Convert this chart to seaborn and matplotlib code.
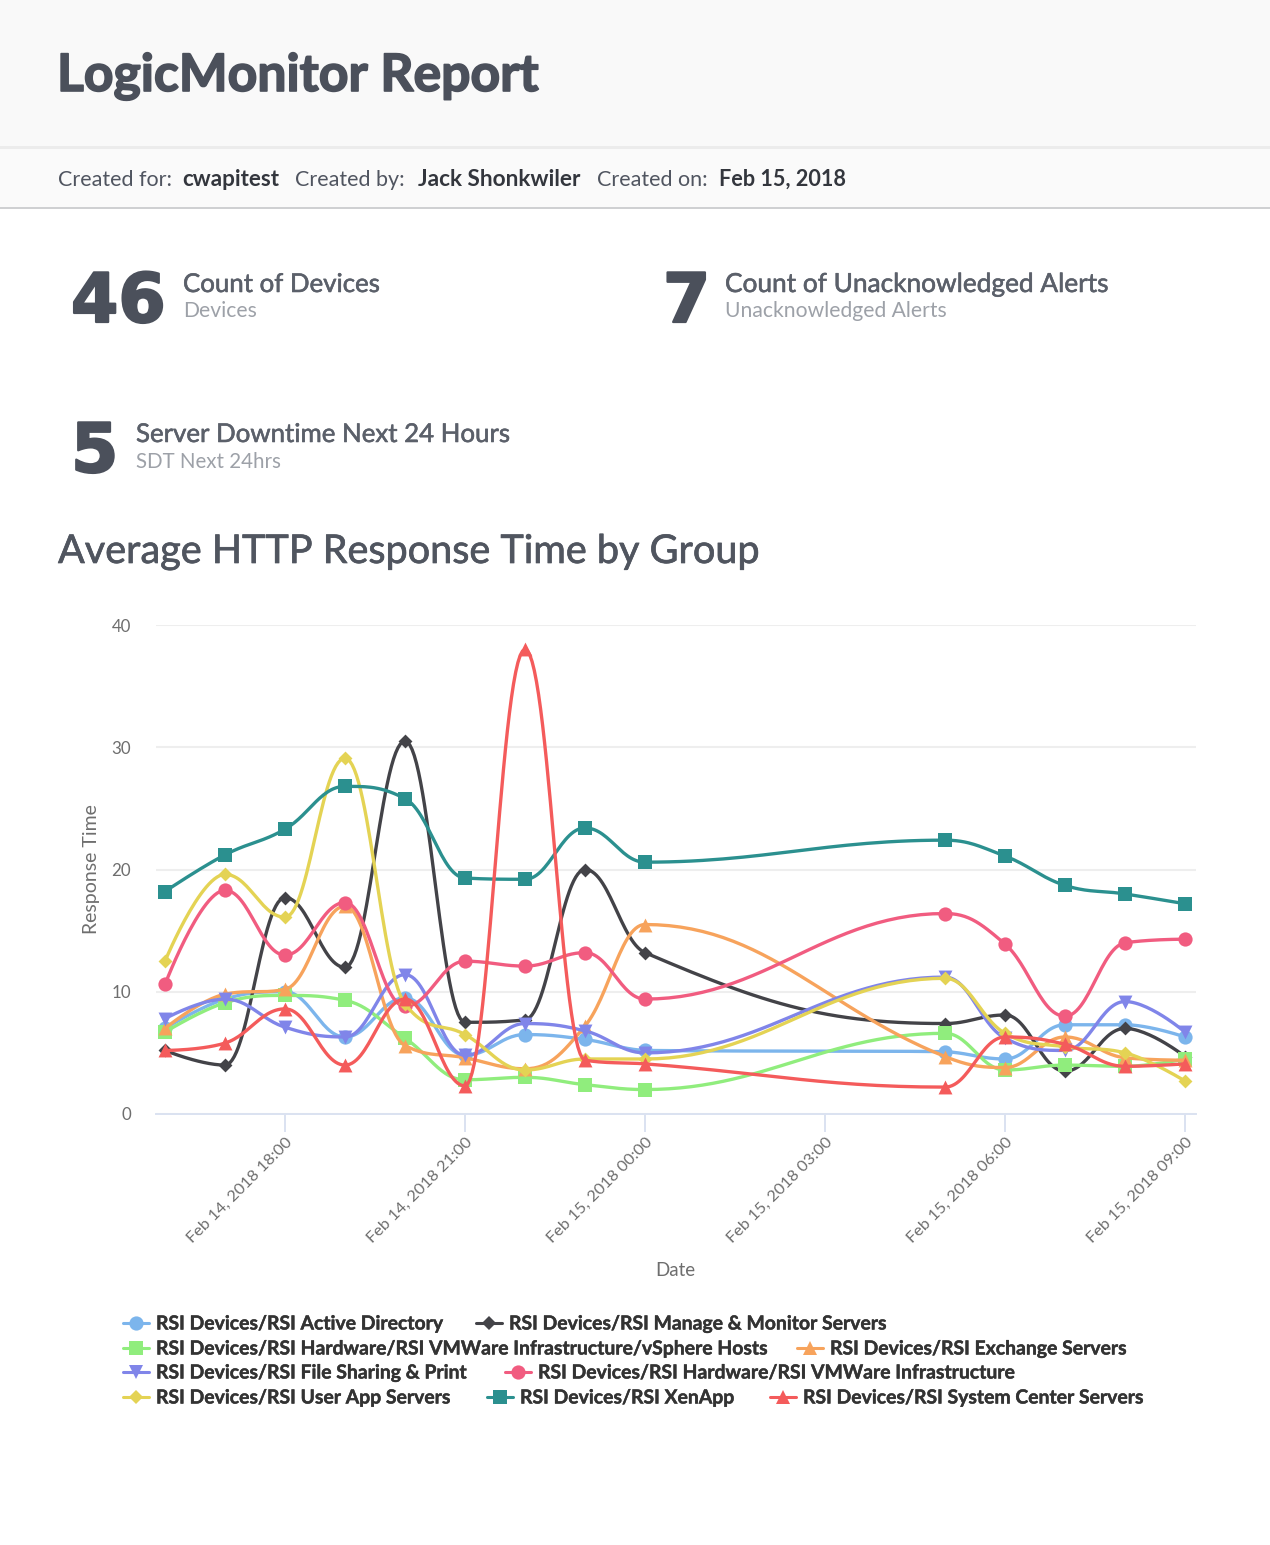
import numpy as np
import pandas as pd
import matplotlib
matplotlib.use('Agg')
import matplotlib.pyplot as plt
import matplotlib.patheffects as pe
from matplotlib.lines import Line2D
from matplotlib.patches import Rectangle
from matplotlib.transforms import ScaledTranslation
import seaborn as sns

# hours since Feb 14 2018 00:00
hours = [16, 17, 18, 19, 20, 21, 22, 23, 24, 29, 30, 31, 32, 33]

active_directory = [7.0, 9.4, 10.0, 6.3, 9.5, 4.8, 6.5, 6.1, 5.2, 5.1, 4.5, 7.3, 7.3, 6.3]
manage_monitor = [5.2, 4.0, 17.7, 12.0, 30.5, 7.5, 7.7, 20.0, 13.2, 7.4, 8.1, 3.5, 7.0, 4.7]
vsphere_hosts = [6.7, 9.1, 9.7, 9.3, 6.2, 2.8, 3.0, 2.4, 2.0, 6.6, 3.6, 4.0, 3.9, 4.5]
exchange = [7.0, 9.8, 10.2, 17.0, 5.6, 4.6, 3.7, 7.2, 15.5, 4.7, 3.8, 6.3, 4.6, 4.4]
file_sharing = [7.8, 9.4, 7.1, 6.3, 11.4, 4.8, 7.4, 6.8, 5.0, 11.2, 6.2, 5.2, 9.2, 6.7]
vmware_infra = [10.6, 18.3, 13.0, 17.3, 8.8, 12.5, 12.1, 13.2, 9.4, 16.4, 13.9, 8.0, 14.0, 14.3]
user_app = [12.5, 19.6, 16.1, 29.1, 9.0, 6.5, 3.6, 4.5, 4.5, 11.1, 6.6, 5.5, 5.0, 2.7]
xenapp = [18.2, 21.2, 23.3, 26.8, 25.8, 19.3, 19.2, 23.4, 20.6, 22.4, 21.1, 18.7, 18.0, 17.2]
system_center = [5.2, 5.8, 8.6, 4.0, 9.4, 2.3, 38.0, 4.4, 4.1, 2.2, 6.3, 5.7, 3.9, 4.1]

names = ['RSI Devices/RSI Active Directory', 'RSI Devices/RSI Manage & Monitor Servers',
         'RSI Devices/RSI Hardware/RSI VMWare Infrastructure/vSphere Hosts', 'RSI Devices/RSI Exchange Servers',
         'RSI Devices/RSI File Sharing & Print', 'RSI Devices/RSI Hardware/RSI VMWare Infrastructure',
         'RSI Devices/RSI User App Servers', 'RSI Devices/RSI XenApp', 'RSI Devices/RSI System Center Servers']
values = [active_directory, manage_monitor, vsphere_hosts, exchange, file_sharing,
          vmware_infra, user_app, xenapp, system_center]
colors = ['#7cb5ec', '#434348', '#90ed7d', '#f7a35c', '#8085e9', '#f15c80', '#e4d354', '#2b908f', '#f45b5b']
markers = ['o', 'D', 's', '^', 'v', 'o', 'D', 's', '^']
sizes = [105, 50, 105, 100, 100, 105, 50, 105, 100]

tick_hours = [18, 21, 24, 27, 30, 33]
tick_labels = ['Feb 14, 2018 18:00', 'Feb 14, 2018 21:00', 'Feb 15, 2018 00:00',
               'Feb 15, 2018 03:00', 'Feb 15, 2018 06:00', 'Feb 15, 2018 09:00']

W, H = 1270, 1545
FONT = 'Lato'
DARK = '#4b505b'
GREY = '#9da1a8'

sns.set_theme(style='white')
plt.rcParams['font.family'] = [FONT, 'DejaVu Sans']


def spline(xv, yv, smoothing=1.5, steps=30):
    # same bezier control points a highcharts spline uses
    xv = np.asarray(xv, float)
    yv = np.asarray(yv, float)
    n = len(xv)
    left = np.column_stack([xv, yv])
    right = left.copy()
    denom = smoothing + 1
    for i in range(1, n - 1):
        lx = (smoothing * xv[i] + xv[i - 1]) / denom
        ly = (smoothing * yv[i] + yv[i - 1]) / denom
        rx = (smoothing * xv[i] + xv[i + 1]) / denom
        ry = (smoothing * yv[i] + yv[i + 1]) / denom
        corr = (ry - ly) * (rx - xv[i]) / (rx - lx) + yv[i] - ry
        ly += corr
        ry += corr
        if ly > yv[i - 1] and ly > yv[i]:
            ly = max(yv[i - 1], yv[i])
            ry = 2 * yv[i] - ly
        elif ly < yv[i - 1] and ly < yv[i]:
            ly = min(yv[i - 1], yv[i])
            ry = 2 * yv[i] - ly
        if ry > yv[i + 1] and ry > yv[i]:
            ry = max(yv[i + 1], yv[i])
            ly = 2 * yv[i] - ry
        elif ry < yv[i + 1] and ry < yv[i]:
            ry = min(yv[i + 1], yv[i])
            ly = 2 * yv[i] - ry
        left[i] = lx, ly
        right[i] = rx, ry
    t = np.linspace(0, 1, steps)[:, None]
    parts = []
    for i in range(n - 1):
        p0 = np.array([xv[i], yv[i]])
        p3 = np.array([xv[i + 1], yv[i + 1]])
        parts.append((1 - t) ** 3 * p0 + 3 * (1 - t) ** 2 * t * right[i]
                     + 3 * (1 - t) * t ** 2 * left[i + 1] + t ** 3 * p3)
    curve = np.vstack(parts)
    return curve[:, 0], curve[:, 1]


def px_text(x, y, s, size, color=DARK, weight='normal', stroke=0, **kw):
    txt = fig.text(x / W, 1 - y / H, s, fontsize=size, color=color, fontweight=weight, va='baseline', **kw)
    if stroke:
        # the original font is heavier than anything installed
        txt.set_path_effects([pe.withStroke(linewidth=stroke, foreground=color)])
    return txt


def band(y0, y1, color):
    fig.add_artist(Rectangle((0, 1 - y1 / H), 1, (y1 - y0) / H, transform=fig.transFigure,
                             facecolor=color, edgecolor='none', zorder=-5))


fig = plt.figure(figsize=(W / 100, H / 100), dpi=100, facecolor='white')

# report header
band(0, 146, '#f9f9f9')
band(146, 149, '#ececec')
band(149, 207, '#fafafa')
band(207, 209, '#cfd0d2')

px_text(57, 91, 'LogicMonitor Report', 37.2, weight='bold', stroke=1.2)

px_text(58, 186, 'Created for:', 15.5, color='#505560')
px_text(182, 186, 'cwapitest', 16.1, color='#33363d', weight='bold')
px_text(295, 186, 'Created by:', 15.5, color='#505560')
px_text(418, 186, 'Jack Shonkwiler', 16.3, color='#33363d', weight='bold')
px_text(597, 186, 'Created on:', 15.5, color='#505560')
px_text(719, 186, 'Feb 15, 2018', 15.6, color='#33363d', weight='bold')

# big number tiles
px_text(71, 322, '46', 49, family='DejaVu Sans', weight='bold', stroke=1.6)
px_text(183, 292, 'Count of Devices', 18.6, color='#5b606a', stroke=0.4)
px_text(183, 317, 'Devices', 15.2, color=GREY)
px_text(663, 322, '7', 49, family='DejaVu Sans', weight='bold', stroke=1.6)
px_text(725, 292, 'Count of Unacknowledged Alerts', 18.9, color='#5b606a', stroke=0.4)
px_text(725, 317, 'Unacknowledged Alerts', 15.2, color=GREY)
px_text(71, 472, '5', 49, family='DejaVu Sans', weight='bold', stroke=1.6)
px_text(136, 442, 'Server Downtime Next 24 Hours', 18.6, color='#5b606a', stroke=0.4)
px_text(136, 468, 'SDT Next 24hrs', 14.8, color=GREY)

px_text(58, 563, 'Average HTTP Response Time by Group', 28.5, color='#50555f', stroke=0.5)

# chart
ax = fig.add_axes([156 / W, 1 - 1114 / H, 1040 / W, 489 / H])
for i, (name, vals) in enumerate(zip(names, values)):
    cx, cy = spline(hours, vals)
    sns.lineplot(x=cx, y=cy, sort=False, estimator=None, errorbar=None, color=colors[i],
                 linewidth=2.4, ax=ax, zorder=3 + i, clip_on=False)
    pts = pd.DataFrame({'hour': hours, 'value': vals})
    sns.scatterplot(data=pts, x='hour', y='value', marker=markers[i], s=sizes[i], color=colors[i],
                    linewidth=0, ax=ax, zorder=3 + i, clip_on=False)

ax.set_xlim(15.85, 33.183)
ax.set_ylim(0, 40)
ax.set_yticks([0, 10, 20, 30, 40])
ax.set_xticks(tick_hours)
ax.set_xticklabels(tick_labels, rotation=45, ha='right', va='top', rotation_mode='anchor',
                   fontsize=11.8, color='#6e6e6e')
shift = ScaledTranslation(-6 / 100, 0, fig.dpi_scale_trans)
for lab in ax.get_xticklabels():
    lab.set_transform(lab.get_transform() + shift)
ax.tick_params(axis='x', length=13, width=1.4, color='#dbe2f1', pad=2, bottom=True)
ax.tick_params(axis='y', length=0, labelsize=12.2, labelcolor='#6e6e6e', pad=18)
ax.grid(axis='y', color='#eeeeee', linewidth=1.5)
ax.set_axisbelow(True)
for side in ['top', 'left', 'right']:
    ax.spines[side].set_visible(False)
ax.spines['bottom'].set_color('#dbe2f1')
ax.spines['bottom'].set_linewidth(1.4)
ax.set_xlabel('')
ax.set_ylabel('')
fig.text(92 / W, 1 - 869 / H, 'Response Time', rotation=90, ha='center', va='center', fontsize=14, color='#6e6e6e')
fig.text(675 / W, 1 - 1271 / H, 'Date', ha='center', va='center', fontsize=13.5, color='#6e6e6e')

# legend rows, laid out by hand because the rows wrap unevenly
legend_rows = [(1323, [(0, 123), (1, 476)]),
               (1348, [(2, 123), (3, 797)]),
               (1372, [(4, 123), (5, 505)]),
               (1397, [(6, 123), (7, 487), (8, 770)])]
for y, row in legend_rows:
    for idx, x in row:
        fy = 1 - y / H
        fig.add_artist(Line2D([x / W, (x + 26) / W], [fy, fy], transform=fig.transFigure, color=colors[idx],
                              linewidth=2.2, marker=None))
        fig.add_artist(Line2D([(x + 13) / W], [fy], transform=fig.transFigure, color=colors[idx], linewidth=0,
                              marker=markers[idx], markersize=np.sqrt(sizes[idx]), markeredgewidth=0))
        leg = fig.text((x + 33) / W, fy - 1 / H, names[idx], fontsize=13.95, fontweight='bold', color='#333333',
                       va='center')
        leg.set_path_effects([pe.withStroke(linewidth=0.3, foreground='#333333')])

fig.savefig('out.png', dpi=100)
